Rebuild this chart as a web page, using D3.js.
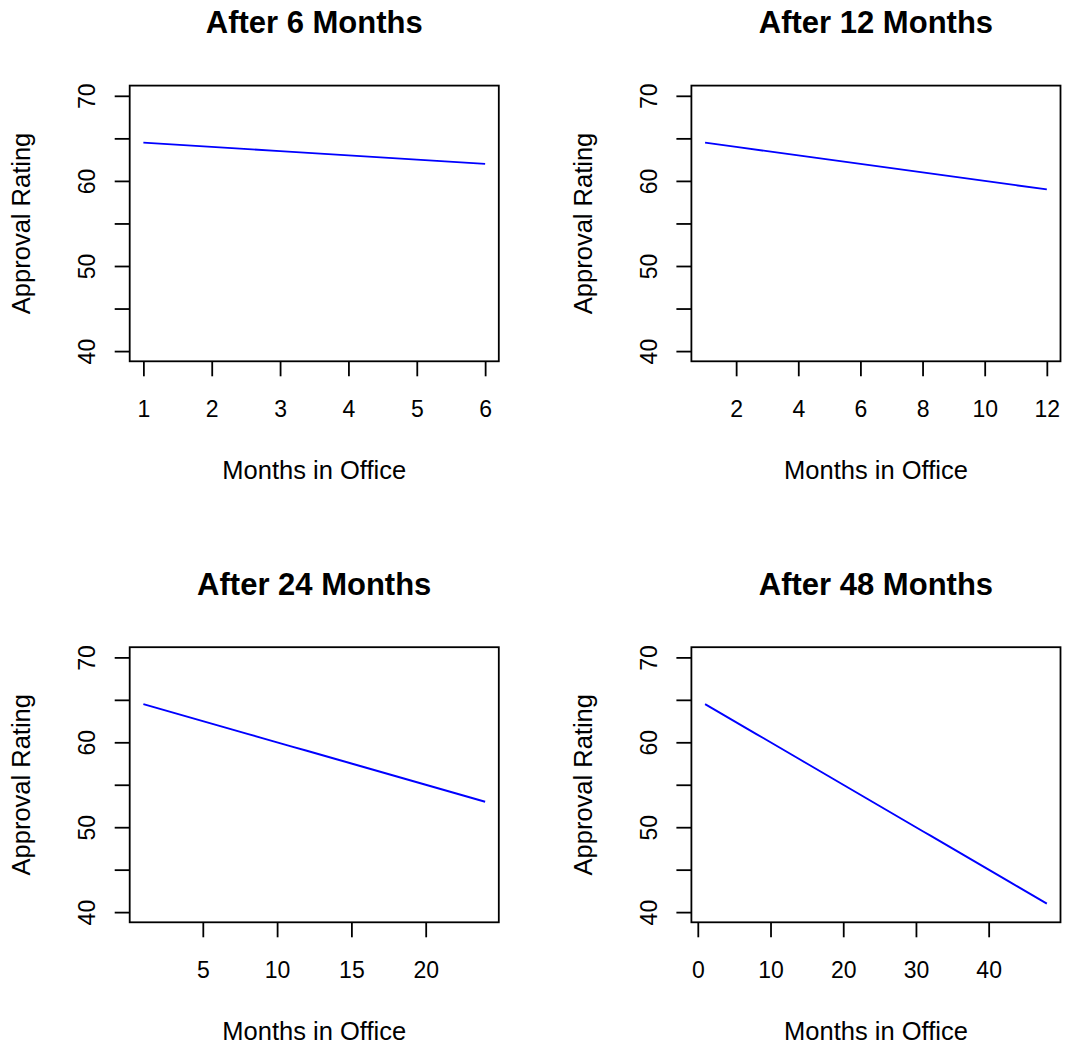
<!DOCTYPE html>
<html>
<head>
<meta charset="utf-8">
<script src="https://cdn.jsdelivr.net/npm/d3@7"></script>
<style>
  body { margin: 0; background: #fff; }
  svg { display: block; font-family: "Liberation Sans", Arial, Helvetica, sans-serif; }
</style>
</head>
<body>
<svg id="chart" width="1065" height="1048"></svg>
<script>
// panel titles and month spans
const titles = ['After 6 Months', 'After 12 Months', 'After 24 Months', 'After 48 Months'];

// approval rating for each month in office
const months6 = [1, 2, 3, 4, 5, 6];
const rating6 = [64.5, 64, 63.5, 63, 62.5, 62];

const months12 = [1, 2, 3, 4, 5, 6, 7, 8, 9, 10, 11, 12];
const rating12 = [64.5, 64, 63.5, 63, 62.5, 62, 61.5, 61, 60.5, 60, 59.5, 59];

const months24 = [1, 2, 3, 4, 5, 6, 7, 8, 9, 10, 11, 12,
                  13, 14, 15, 16, 17, 18, 19, 20, 21, 22, 23, 24];
const rating24 = [64.5, 64, 63.5, 63, 62.5, 62, 61.5, 61, 60.5, 60, 59.5, 59,
                  58.5, 58, 57.5, 57, 56.5, 56, 55.5, 55, 54.5, 54, 53.5, 53];

const months48 = [1, 2, 3, 4, 5, 6, 7, 8, 9, 10, 11, 12,
                  13, 14, 15, 16, 17, 18, 19, 20, 21, 22, 23, 24,
                  25, 26, 27, 28, 29, 30, 31, 32, 33, 34, 35, 36,
                  37, 38, 39, 40, 41, 42, 43, 44, 45, 46, 47, 48];
const rating48 = [64.5, 64, 63.5, 63, 62.5, 62, 61.5, 61, 60.5, 60, 59.5, 59,
                  58.5, 58, 57.5, 57, 56.5, 56, 55.5, 55, 54.5, 54, 53.5, 53,
                  52.5, 52, 51.5, 51, 50.5, 50, 49.5, 49, 48.5, 48, 47.5, 47,
                  46.5, 46, 45.5, 45, 44.5, 44, 43.5, 43, 42.5, 42, 41.5, 41];

// tick labels
const xTicks = [
    [1, 2, 3, 4, 5, 6],
    [2, 4, 6, 8, 10, 12],
    [5, 10, 15, 20],
    [0, 10, 20, 30, 40]
];
const yTicks = [40, 45, 50, 55, 60, 65, 70];
const yLabels = [40, 50, 60, 70];
const yLim = [40, 70];

const series = [
    { months: months6, rating: rating6 },
    { months: months12, rating: rating12 },
    { months: months24, rating: rating24 },
    { months: months48, rating: rating48 }
];

// plot boxes (left, right, top, bottom)
const cols = [[129.7, 498.8], [691.4, 1060.5]];
const rows = [[85.6, 361.3], [647.2, 922.3]];

const svg = d3.select('#chart');

// R style 4% range padding
const pad = (lo, hi) => { const d = (hi - lo) * 0.04; return [lo - d, hi + d]; };

series.forEach((s, i) => {
    const [x0, x1] = cols[i % 2];
    const [y0, y1] = rows[Math.floor(i / 2)];
    const w = x1 - x0, h = y1 - y0;

    const x = d3.scaleLinear().domain(pad(d3.min(s.months), d3.max(s.months))).range([0, w]);
    const y = d3.scaleLinear().domain(pad(yLim[0], yLim[1])).range([h, 0]);

    const g = svg.append('g').attr('transform', `translate(${x0},${y0})`);

    // data line
    const pts = s.months.map((m, j) => [m, s.rating[j]]);
    g.append('path')
        .attr('d', d3.line().x(d => x(d[0])).y(d => y(d[1]))(pts))
        .attr('fill', 'none')
        .attr('stroke', '#0000ff')
        .attr('stroke-width', 1.9);

    // x axis
    const xa = g.append('g').attr('transform', `translate(0,${h})`)
        .call(d3.axisBottom(x).tickValues(xTicks[i]).tickSize(15).tickSizeOuter(0).tickFormat(d3.format('d')));
    xa.select('.domain').remove();
    xa.selectAll('line').attr('stroke', '#000').attr('stroke-width', 1.8);
    xa.selectAll('text')
        .attr('y', 55.8).attr('dy', 0)
        .attr('fill', '#000')
        .style('font-size', '23px');

    // y axis
    const ya = g.append('g')
        .call(d3.axisLeft(y).tickValues(yTicks).tickSize(15).tickSizeOuter(0)
            .tickFormat(d => yLabels.includes(d) ? d : ''));
    ya.select('.domain').remove();
    ya.selectAll('line').attr('stroke', '#000').attr('stroke-width', 1.8);
    ya.selectAll('text')
        .attr('transform', 'rotate(-90)')
        .attr('x', 0).attr('y', -34.7).attr('dy', 0)
        .attr('text-anchor', 'middle')
        .attr('fill', '#000')
        .style('font-size', '23px');

    // box
    g.append('rect')
        .attr('width', w).attr('height', h)
        .attr('fill', 'none')
        .attr('stroke', '#000')
        .attr('stroke-width', 1.8);

    // title
    g.append('text')
        .attr('x', w / 2).attr('y', -52.6)
        .attr('text-anchor', 'middle')
        .style('font-size', '31px')
        .style('font-weight', 'bold')
        .text(titles[i]);

    // axis titles
    g.append('text')
        .attr('x', w / 2).attr('y', h + 118)
        .attr('text-anchor', 'middle')
        .style('font-size', '25.5px')
        .text('Months in Office');

    g.append('text')
        .attr('transform', `translate(-99.7,${h / 2}) rotate(-90)`)
        .attr('text-anchor', 'middle')
        .style('font-size', '25.5px')
        .text('Approval Rating');
});
</script>
</body>
</html>
